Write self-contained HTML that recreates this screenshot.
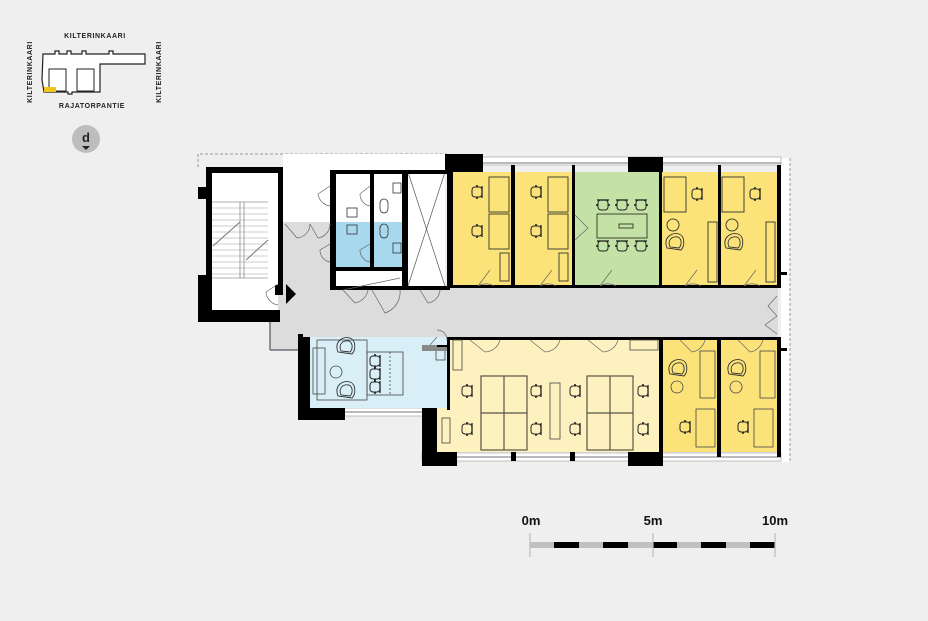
<!DOCTYPE html>
<html><head><meta charset="utf-8"><style>
html,body{margin:0;padding:0;background:#efefef;}
svg{display:block;font-family:"Liberation Sans",Arial,sans-serif;}
</style></head><body>
<svg width="928" height="621" viewBox="0 0 928 621" xmlns="http://www.w3.org/2000/svg">
<defs>
<g id="ch"><rect x="-5" y="-5" width="10" height="10" rx="3" fill="none" stroke="#222" stroke-width="1"/><line x1="-6" y1="-5" x2="6" y2="-5" stroke="#222" stroke-width="1.3"/><circle cx="-6" cy="0" r="1" fill="#222"/><circle cx="6" cy="0" r="1" fill="#222"/></g>
<g id="chL"><rect x="-5" y="-5" width="10" height="10" rx="3" fill="none" stroke="#222" stroke-width="1"/><line x1="5" y1="-6" x2="5" y2="6" stroke="#222" stroke-width="1.3"/><circle cx="0" cy="-6" r="1" fill="#222"/><circle cx="0" cy="6" r="1" fill="#222"/></g>
<g id="arm"><path d="M-8,6 C-12,-4 -4,-10 4,-8 C10,-6 10,4 6,8 Z" fill="none" stroke="#333" stroke-width="0.9"/><path d="M-5,5 C-8,-2 -3,-6 3,-5 C7,-3 7,3 4,6 Z" fill="none" stroke="#333" stroke-width="0.9"/></g>
</defs>

<text x="95" y="38" font-size="7" font-weight="bold" text-anchor="middle" fill="#222" letter-spacing="0.6">KILTERINKAARI</text>
<text x="92" y="108" font-size="7" font-weight="bold" text-anchor="middle" fill="#222" letter-spacing="0.6">RAJATORPANTIE</text>
<text transform="translate(32,72) rotate(-90)" font-size="7" font-weight="bold" text-anchor="middle" fill="#222" letter-spacing="0.6">KILTERINKAARI</text>
<text transform="translate(161,72) rotate(-90)" font-size="7" font-weight="bold" text-anchor="middle" fill="#222" letter-spacing="0.6">KILTERINKAARI</text>
<path d="M43,54 L55,54 L55,51 L59,51 L59,54 L67,54 L67,51 L71,51 L71,54 L82,54 L82,51 L86,51 L86,54 L109,54 L109,51 L113,51 L113,54 L145,54 L145,64 L100,64 L100,92 L72,92 L72,94 L68,94 L68,92 L44,92 L42,80 Z" fill="#fff" stroke="#222" stroke-width="1.2"/>
<rect x="49" y="69" width="17" height="22" fill="none" stroke="#222" stroke-width="1"/>
<rect x="77" y="69" width="17" height="22" fill="none" stroke="#222" stroke-width="1"/>
<rect x="44" y="87" width="12" height="5" fill="#f2c41a"/>
<circle cx="86" cy="139" r="14" fill="#bdbdbd"/>
<text x="86" y="142" font-size="13" font-weight="bold" text-anchor="middle" fill="#222">d</text>
<path d="M82,146 L90,146 L86,150 Z" fill="#222"/>

<path d="M198,167 L198,154 L447,154" fill="none" stroke="#999" stroke-width="1" stroke-dasharray="3,2"/>
<rect x="781" y="158" width="9" height="304" fill="#fff"/>
<line x1="790" y1="158" x2="790" y2="462" stroke="#999" stroke-dasharray="3,2"/>
<rect x="447" y="157" width="334" height="8" fill="#fff" stroke="#999" stroke-width="0.6"/>
<line x1="447" y1="163" x2="781" y2="163" stroke="#445" stroke-width="0.8"/>
<rect x="422" y="453" width="359" height="8" fill="#fff" stroke="#999" stroke-width="0.6"/>
<line x1="422" y1="457" x2="781" y2="457" stroke="#445" stroke-width="0.8"/>
<rect x="340" y="408" width="90" height="8" fill="#fff" stroke="#999" stroke-width="0.6"/>
<line x1="340" y1="412" x2="430" y2="412" stroke="#445" stroke-width="0.8"/>
<line x1="210" y1="200" x2="210" y2="275" stroke="#556" stroke-width="1.5"/>

<rect x="283" y="222" width="52" height="70" fill="#dcdcdc"/>
<rect x="270" y="286" width="508" height="51" fill="#dcdcdc"/>
<rect x="270" y="320" width="40" height="30" fill="#dcdcdc"/>
<line x1="270" y1="322" x2="270" y2="350" stroke="#556" stroke-width="1.2"/>
<line x1="270" y1="350" x2="298" y2="350" stroke="#556" stroke-width="1.2"/>

<rect x="283" y="154" width="50" height="68" fill="#fff"/>
<rect x="333" y="154" width="114" height="18" fill="#fff"/>
<rect x="336" y="174" width="68" height="48" fill="#fff"/>
<rect x="336" y="222" width="68" height="45" fill="#a7d8ee"/>
<rect x="336" y="271" width="68" height="16" fill="#fff"/>
<rect x="408" y="172" width="37" height="114" fill="#fff"/>
<line x1="408" y1="172" x2="445" y2="286" stroke="#555" stroke-width="0.7"/>
<line x1="445" y1="172" x2="408" y2="286" stroke="#555" stroke-width="0.7"/>
<rect x="347" y="208" width="10" height="9" fill="none" stroke="#333" stroke-width="0.8"/>
<rect x="347" y="225" width="10" height="9" fill="none" stroke="#333" stroke-width="0.8"/>
<rect x="393" y="183" width="8" height="10" fill="none" stroke="#333" stroke-width="0.8"/>
<rect x="393" y="243" width="8" height="10" fill="none" stroke="#333" stroke-width="0.8"/>
<rect x="380" y="199" width="8" height="14" rx="4" fill="none" stroke="#333" stroke-width="0.8"/>
<rect x="380" y="224" width="8" height="14" rx="4" fill="none" stroke="#333" stroke-width="0.8"/>
<g fill="#000">
<rect x="330" y="170" width="6" height="120"/>
<rect x="330" y="170" width="117" height="4"/>
<rect x="370" y="170" width="4" height="98"/>
<rect x="330" y="267" width="75" height="4"/>
<rect x="402" y="170" width="6" height="120"/>
<rect x="330" y="286" width="120" height="4"/>
<rect x="445" y="154" width="38" height="18"/>
</g>

<rect x="212" y="172" width="66" height="138" fill="#fff"/>
<g stroke="#666" stroke-width="0.6">
<line x1="212" y1="202" x2="268" y2="202"/><line x1="212" y1="278" x2="268" y2="278"/>
<line x1="240" y1="202" x2="240" y2="278"/><line x1="244" y1="202" x2="244" y2="278"/>
</g>
<g stroke="#999" stroke-width="0.5">
<line x1="212" y1="208" x2="268" y2="208"/><line x1="212" y1="214" x2="268" y2="214"/><line x1="212" y1="220" x2="268" y2="220"/><line x1="212" y1="226" x2="268" y2="226"/><line x1="212" y1="232" x2="268" y2="232"/><line x1="212" y1="238" x2="268" y2="238"/><line x1="212" y1="244" x2="268" y2="244"/><line x1="212" y1="250" x2="268" y2="250"/><line x1="212" y1="256" x2="268" y2="256"/><line x1="212" y1="262" x2="268" y2="262"/><line x1="212" y1="268" x2="268" y2="268"/><line x1="212" y1="274" x2="268" y2="274"/>
</g>
<line x1="213" y1="246" x2="240" y2="222" stroke="#777"/>
<line x1="246" y1="260" x2="268" y2="240" stroke="#777"/>
<g fill="#000">
<rect x="206" y="167" width="77" height="6"/>
<rect x="206" y="167" width="6" height="143"/>
<rect x="198" y="187" width="14" height="12"/>
<rect x="198" y="275" width="14" height="47"/>
<rect x="198" y="310" width="82" height="12"/>
<rect x="278" y="167" width="5" height="118"/>
<rect x="275" y="285" width="8" height="10"/>
<path d="M286,284 L296,294 L286,304 Z"/>
</g>

<rect x="452" y="172" width="59" height="114" fill="#fbe37a"/>
<rect x="515" y="172" width="57" height="114" fill="#fbe37a"/>
<rect x="575" y="172" width="84" height="114" fill="#c4e2a5"/>
<rect x="662" y="172" width="56" height="114" fill="#fbe37a"/>
<rect x="721" y="172" width="56" height="114" fill="#fbe37a"/>
<g fill="#000">
<rect x="447" y="165" width="6" height="123"/>
<rect x="511" y="165" width="4" height="123"/>
<rect x="572" y="165" width="3" height="123"/>
<rect x="659" y="165" width="3" height="123"/>
<rect x="718" y="165" width="3" height="123"/>
<rect x="777" y="165" width="4" height="123"/>
<rect x="447" y="285" width="334" height="3"/>
<rect x="628" y="157" width="35" height="15"/>
<rect x="447" y="157" width="36" height="15"/>
<rect x="777" y="272" width="10" height="3"/>
<rect x="777" y="348" width="10" height="3"/>
</g>
<g fill="none" stroke="#443" stroke-width="1">
<rect x="489" y="177" width="20" height="35"/><rect x="489" y="214" width="20" height="35"/>
<rect x="548" y="177" width="20" height="35"/><rect x="548" y="214" width="20" height="35"/>
<rect x="500" y="253" width="9" height="28"/><rect x="559" y="253" width="9" height="28"/>
<rect x="597" y="214" width="50" height="24"/><rect x="619" y="224" width="14" height="4"/>
<rect x="664" y="177" width="22" height="35"/><rect x="722" y="177" width="22" height="35"/>
<rect x="708" y="222" width="9" height="60"/><rect x="766" y="222" width="9" height="60"/>
<circle cx="673" cy="225" r="6"/><circle cx="732" cy="225" r="6"/>
</g>
<use href="#chL" x="477" y="192"/><use href="#chL" x="477" y="231"/>
<use href="#chL" x="536" y="192"/><use href="#chL" x="536" y="231"/>
<use href="#ch" x="603" y="205"/><use href="#ch" x="622" y="205"/><use href="#ch" x="641" y="205"/>
<use href="#ch" x="603" y="246"/><use href="#ch" x="622" y="246"/><use href="#ch" x="641" y="246"/>
<use href="#chL" x="697" y="194"/><use href="#chL" x="755" y="194"/>
<use href="#arm" x="675" y="242"/><use href="#arm" x="734" y="242"/>

<rect x="308" y="337" width="139" height="71" fill="#d9eff8"/>
<g fill="none" stroke="#444" stroke-width="0.8">
<rect x="317" y="340" width="50" height="60"/><rect x="313" y="348" width="12" height="46"/>
<circle cx="336" cy="372" r="6"/>
<rect x="367" y="352" width="36" height="43"/>
<line x1="390" y1="352" x2="390" y2="395" stroke-dasharray="2,2"/>
<rect x="436" y="350" width="9" height="10"/>
</g>
<use href="#arm" x="346" y="346"/><use href="#arm" x="346" y="390"/>
<use href="#chL" x="375" y="361"/><use href="#chL" x="375" y="374"/><use href="#chL" x="375" y="387"/>
<g fill="#000">
<rect x="298" y="337" width="12" height="83"/>
<rect x="298" y="408" width="47" height="12"/>
<rect x="298" y="334" width="5" height="5"/>
<rect x="422" y="345" width="28" height="6" fill="#888"/>
<rect x="437" y="345" width="10" height="2"/>
</g>

<rect x="447" y="340" width="212" height="112" fill="#fdf2bf"/>
<rect x="437" y="408" width="12" height="44" fill="#fdf2bf"/>
<rect x="663" y="340" width="54" height="112" fill="#fbe37a"/>
<rect x="721" y="340" width="56" height="112" fill="#fbe37a"/>
<g fill="#000">
<rect x="447" y="337" width="334" height="3"/>
<rect x="447" y="337" width="3" height="73"/>
<rect x="659" y="337" width="4" height="120"/>
<rect x="717" y="337" width="4" height="120"/>
<rect x="777" y="337" width="4" height="120"/>
<rect x="422" y="408" width="15" height="58"/>
<rect x="422" y="452" width="35" height="14"/>
<rect x="628" y="452" width="35" height="14"/>
<rect x="511" y="452" width="5" height="9"/>
<rect x="570" y="452" width="5" height="9"/>
</g>
<g fill="none" stroke="#554" stroke-width="1.2">
<rect x="481" y="376" width="46" height="74"/><line x1="504" y1="376" x2="504" y2="450"/><line x1="481" y1="413" x2="527" y2="413"/>
<rect x="587" y="376" width="46" height="74"/><line x1="610" y1="376" x2="610" y2="450"/><line x1="587" y1="413" x2="633" y2="413"/>
</g>
<g fill="none" stroke="#444" stroke-width="0.8">
<rect x="550" y="383" width="10" height="56"/>
<rect x="453" y="340" width="9" height="30"/><rect x="630" y="340" width="28" height="10"/><rect x="442" y="418" width="8" height="25"/>
<rect x="700" y="351" width="15" height="47"/><rect x="760" y="351" width="15" height="47"/>
<rect x="696" y="409" width="19" height="38"/><rect x="754" y="409" width="19" height="38"/>
<circle cx="677" cy="387" r="6"/><circle cx="736" cy="387" r="6"/>
</g>
<use href="#chL" x="467" y="391"/><use href="#chL" x="467" y="429"/>
<use href="#chL" x="536" y="391"/><use href="#chL" x="536" y="429"/>
<use href="#chL" x="575" y="391"/><use href="#chL" x="575" y="429"/>
<use href="#chL" x="643" y="391"/><use href="#chL" x="643" y="429"/>
<use href="#chL" x="685" y="427"/><use href="#chL" x="743" y="427"/>
<use href="#arm" x="678" y="368"/><use href="#arm" x="737" y="368"/>

<g fill="none" stroke="#666" stroke-width="0.7">
<path d="M478,286 L490,270 M478,286 A16,16 0 0 1 494,286"/>
<path d="M540,286 L552,270 M540,286 A16,16 0 0 1 556,286"/>
<path d="M600,286 L612,270 M600,286 A16,16 0 0 1 616,286"/>
<path d="M685,286 L697,270 M685,286 A16,16 0 0 1 701,286"/>
<path d="M744,286 L756,270 M744,286 A16,16 0 0 1 760,286"/>
<path d="M470,340 L485,352 M500,340 A16,16 0 0 1 485,352"/>
<path d="M530,340 L545,352 M560,340 A16,16 0 0 1 545,352"/>
<path d="M588,340 L603,352 M618,340 A16,16 0 0 1 603,352"/>
<path d="M680,340 L692,352 M705,340 A16,16 0 0 1 692,352"/>
<path d="M738,340 L750,352 M763,340 A16,16 0 0 1 750,352"/>
<path d="M343,290 L355,303 A16,16 0 0 0 368,290"/>
<path d="M372,290 L385,313 A22,22 0 0 0 400,290"/>
<path d="M420,290 L428,303 A14,14 0 0 0 440,290"/>
<path d="M285,224 L297,238 A14,14 0 0 0 310,224"/>
<path d="M310,224 L318,238 A14,14 0 0 0 330,224"/>
<path d="M330,186 L318,194 A14,14 0 0 0 330,206"/>
<path d="M370,186 L360,194 A12,12 0 0 0 370,206"/>
<path d="M330,244 L320,250 A12,12 0 0 0 330,262"/>
<path d="M370,244 L360,250 A12,12 0 0 0 370,262"/>
<path d="M278,284 L266,292 A14,14 0 0 0 278,305"/>
<path d="M575,215 L588,228 L575,240"/>
<path d="M777,296 L768,306 L777,316 M777,316 L765,325 L777,334"/>
<path d="M437,337 L430,345 M437,330 A10,10 0 0 1 447,340"/>
</g>
<line x1="343" y1="290" x2="400" y2="278" stroke="#666" stroke-width="0.7"/>

<text x="531" y="525" font-size="13" font-weight="bold" text-anchor="middle" fill="#111">0m</text>
<text x="653" y="525" font-size="13" font-weight="bold" text-anchor="middle" fill="#111">5m</text>
<text x="775" y="525" font-size="13" font-weight="bold" text-anchor="middle" fill="#111">10m</text>
<rect x="530" y="542" width="245" height="6" fill="#c0c0c0"/>
<g fill="#000">
<rect x="554" y="542" width="25" height="6"/><rect x="603" y="542" width="25" height="6"/>
<rect x="653" y="542" width="24" height="6"/><rect x="701" y="542" width="25" height="6"/><rect x="750" y="542" width="25" height="6"/>
</g>
<g stroke="#bbb" stroke-width="1.2">
<line x1="530" y1="533" x2="530" y2="557"/><line x1="653" y1="533" x2="653" y2="557"/><line x1="775" y1="533" x2="775" y2="557"/>
</g>
</svg>
</body></html>
